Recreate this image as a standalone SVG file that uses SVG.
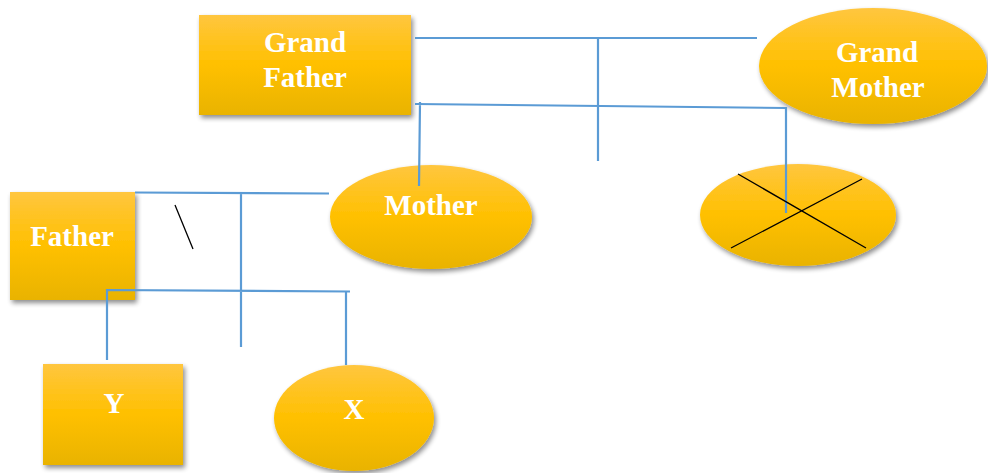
<svg xmlns="http://www.w3.org/2000/svg" width="988" height="473" viewBox="0 0 988 473">
<defs>
<linearGradient id="gold" x1="0" y1="0" x2="0" y2="1">
<stop offset="0" stop-color="#ffc63f"/>
<stop offset="0.5" stop-color="#ffc000"/>
<stop offset="1" stop-color="#e9b300"/>
</linearGradient>
<filter id="sh" x="-10%" y="-10%" width="125%" height="130%">
<feGaussianBlur in="SourceAlpha" stdDeviation="2.5"/>
<feOffset dx="2" dy="3" result="b"/>
<feComponentTransfer><feFuncA type="linear" slope="0.45"/></feComponentTransfer>
<feMerge><feMergeNode/><feMergeNode in="SourceGraphic"/></feMerge>
</filter>
</defs>
<style>
.n{fill:url(#gold);filter:url(#sh)}
.t{font-family:"Liberation Serif","Times New Roman",serif;font-weight:bold;font-size:29px;fill:#fff;text-anchor:middle}
.c{stroke:#5b9bd5;stroke-width:2.2;fill:none}
.k{stroke:#000;stroke-width:1.3;fill:none}
</style>
<rect width="988" height="473" fill="#fff"/>
<g id="grandfather"><rect class="n" x="199" y="15" width="212" height="100"/><text class="t" x="305" y="52">Grand</text><text class="t" x="305" y="87">Father</text></g>
<g id="grandmother"><ellipse class="n" cx="873" cy="66" rx="114" ry="58"/><text class="t" x="877" y="62">Grand</text><text class="t" x="878" y="97">Mother</text></g>
<g id="father"><rect class="n" x="10" y="192" width="125" height="108"/><text class="t" x="72" y="246">Father</text></g>
<g id="mother"><ellipse class="n" cx="431" cy="217" rx="101" ry="52"/><text class="t" x="431" y="215">Mother</text></g>
<g id="crossed"><ellipse class="n" cx="798" cy="215" rx="98" ry="51"/></g>
<g id="y"><rect class="n" x="43" y="364" width="140" height="101"/><text class="t" x="114" y="413">Y</text></g>
<g id="x"><ellipse class="n" cx="354" cy="418" rx="80" ry="53"/><text class="t" x="354" y="419">X</text></g>
<g id="connectors">
<path class="c" d="M415 38H757M598 38V161M415 104L786 108V213M420 102L419 186"/>
<path class="c" d="M135 192.5L329 193.5M241 193V347M107 360V290L350 291.5M346 291V365"/>
<path class="k" d="M738 174L866 248M862 179L731 248M175 205L193 249"/>
</g>
</svg>
